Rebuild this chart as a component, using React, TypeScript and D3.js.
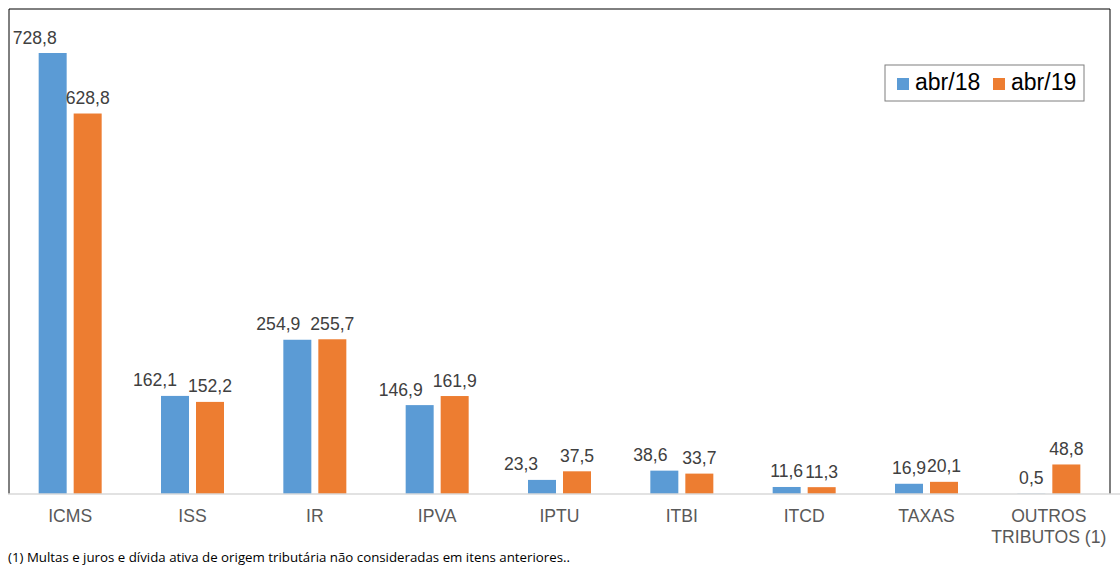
import React from "react";
import * as d3 from "d3";

const categories = ["ICMS", "ISS", "IR", "IPVA", "IPTU", "ITBI", "ITCD", "TAXAS", "OUTROS\nTRIBUTOS (1)"];
const seriesNames = ["abr/18", "abr/19"];
const abr18 = [728.8, 162.1, 254.9, 146.9, 23.3, 38.6, 11.6, 16.9, 0.5];
const abr19 = [628.8, 152.2, 255.7, 161.9, 37.5, 33.7, 11.3, 20.1, 48.8];
const colors = ["#5B9BD5", "#ED7D31"];
const footnote = "(1) Multas e juros e dívida ativa de origem tributária não consideradas em itens anteriores..";
// horizontal nudge of the abr/18 value labels (as placed in the original)
const blueLabelDx = [-18, -20, -19, -19, -21, -14, 0, 0, 0];

const W = 1120, H = 568;
const left = 9, right = 1110, top = 9, baseline = 494;

export default function App() {
  const x = d3.scaleBand<string>().domain(categories).range([left, right]);
  const y = d3.scaleLinear().domain([0, 728.8]).range([baseline, 53]);
  const barW = 28, gap = 7;
  const fmt = (v: number) => v.toFixed(1).replace(".", ",");
  const data = [abr18, abr19];
  return (
    <svg width={W} height={H} style={{ position: "absolute", left: 0, top: 0, fontFamily: "'Liberation Sans', Arial, sans-serif" }}>
      <rect x={0} y={0} width={W} height={H} fill="#fff" />
      <path d={`M${left},${baseline}V${top}H${right}V${baseline}`} fill="none" stroke="#000" strokeWidth={1} />
      {categories.map((c, i) => {
        const cx = (x(c) as number) + x.bandwidth() / 2;
        return (
          <g key={c}>
            {data.map((s, k) => {
              const bx = k === 0 ? cx - gap / 2 - barW : cx + gap / 2;
              const dx = k === 0 ? blueLabelDx[i] : 0;
              return (
                <g key={k}>
                  <rect x={bx} y={y(s[i])} width={barW} height={baseline - y(s[i])} fill={colors[k]} />
                  <text x={bx + barW / 2 + dx} y={y(s[i]) - 9.5} textAnchor="middle" fontSize={17.6} fill="#404040">{fmt(s[i])}</text>
                </g>
              );
            })}
            {c.split("\n").map((line, j) => (
              <text key={j} x={cx} y={522 + j * 21} textAnchor="middle" fontSize={17.6} fill="#595959">{line}</text>
            ))}
          </g>
        );
      })}
      <line x1={8} x2={W} y1={baseline} y2={baseline} stroke="#D9D9D9" strokeWidth={1.5} />
      <g>
        <rect x={885} y={65} width={199} height={36} fill="#fff" stroke="#7f7f7f" strokeWidth={1} />
        {seriesNames.map((n, k) => (
          <g key={n} transform={`translate(${897 + k * 96},0)`}>
            <rect x={0} y={78} width={12} height={12} fill={colors[k]} />
            <text x={18} y={90} fontSize={23} fill="#000">{n}</text>
          </g>
        ))}
      </g>
      <text x={8} y={562} fontSize={12.5} fill="#000" fontFamily="'Open Sans', sans-serif" textLength={562} lengthAdjust="spacingAndGlyphs">{footnote}</text>
    </svg>
  );
}
